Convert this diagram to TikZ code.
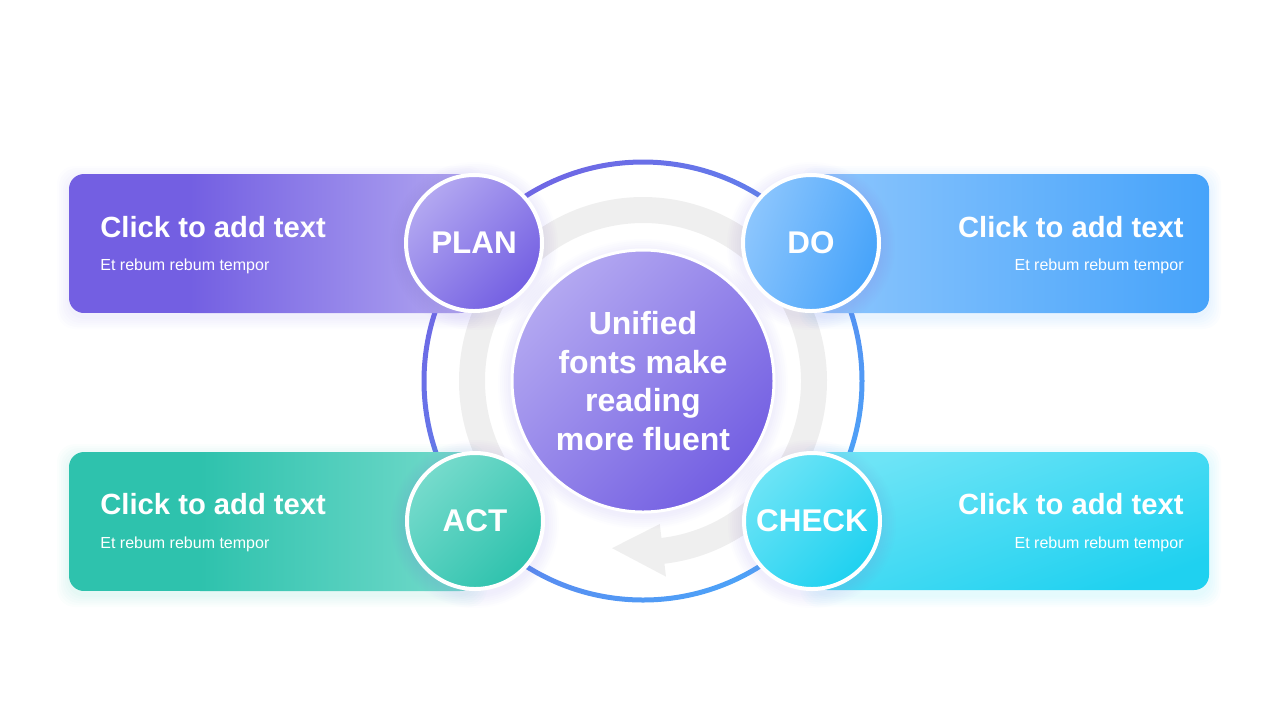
\documentclass[tikz,border=0pt]{standalone}
\usepackage{fontspec}
\setmainfont{Liberation Sans}
\usetikzlibrary{calc}
\definecolor{planA}{HTML}{735FE2}
\definecolor{planB}{HTML}{B3A8F1}
\definecolor{doA}{HTML}{46A3FA}
\definecolor{doB}{HTML}{8DC6FD}
\definecolor{actA}{HTML}{2EC2AD}
\definecolor{actB}{HTML}{76DBCC}
\definecolor{chkA}{HTML}{1FD1F0}
\definecolor{chkB}{HTML}{6DE4F6}
\definecolor{ringA}{HTML}{6F66E4}
\definecolor{ringB}{HTML}{4CA3F8}
\definecolor{ringgray}{HTML}{EFEFEF}
\definecolor{glowc}{HTML}{8C80E8}
\newcommand\Glow[3]{%
    \foreach \g in {2,4,...,14}
        \fill[glowc,opacity=0.018] (#1,#2+3) circle[radius=#3+\g];
}
\newcommand\BoxGlow[4]{%
    \foreach \g in {2,4,...,12}
        \fill[#4,opacity=0.02,rounded corners=9pt] (#1-\g,#2-\g+4) rectangle (#3+\g,\g+4+#2+139);
}
% box with a flat part and a fading part
\newcommand\FadeBox[6]{%
    \begin{scope}
        \clip[rounded corners=7.5pt] (#1,#2) rectangle (#3,#2+139);
        \fill[#5] (#1,#2) rectangle (#3,#2+139);
        \shade[left color=#5,right color=#6] (#4,#2-2) rectangle (#3+2,#2+141);
    \end{scope}
}
\tikzset{
    title/.style={font=\bfseries\fontsize{14.6}{17}\selectfont,text=white,inner sep=0pt},
    subtitle/.style={font=\fontsize{8}{10}\selectfont,text=white,inner sep=0pt},
    stage/.style 2 args={circle,minimum size=68pt,inner sep=0pt,draw=white,line width=2pt,
        font=\bfseries\fontsize{15.7}{18}\selectfont,text=white,
        top color=#1,bottom color=#2,shading angle=45},
}

\begin{document}
\begin{tikzpicture}[x=0.5pt,y=-0.5pt]
    \useasboundingbox (0,0) rectangle (1280,720);
    % gray cycle arrow
    \begin{scope}[shift={(643,381)}]
        \fill[ringgray] (140:184) arc[start angle=140,end angle=443.3,radius=184]
            -- (443.3:197) -- (100.5:170) -- (443.3:144) -- (443.3:158)
            arc[start angle=443.3,end angle=140,radius=158] -- cycle;
    \end{scope}
    \shade[even odd rule,top color=ringA,bottom color=ringB,shading angle=45]
        (643,381) circle[radius=221.5] (643,381) circle[radius=216.5];
    % boxes
    \BoxGlow{69}{174}{474}{glowc}
    \BoxGlow{811}{174}{1209}{doA}
    \BoxGlow{69}{452}{475}{actA}
    \BoxGlow{812}{452}{1209}{chkA}
    \FadeBox{69}{174}{474}{190}{planA}{planB}
    \shade[left color=doB,right color=doA,rounded corners=7.5pt] (811,174) rectangle (1209,313);
    \FadeBox{69}{452}{475}{200}{actA}{actB}
    \shade[top color=chkB,bottom color=chkA,shading angle=20,rounded corners=7.5pt] (812,452) rectangle (1209,590);
    \node[title,anchor=base west] (plantitle) at (100,237) {Click to add text};
    \node[subtitle,anchor=base west] (plantext) at (100,270) {Et rebum rebum tempor};
    \node[title,anchor=base east] (dotitle) at (1184,237) {Click to add text};
    \node[subtitle,anchor=base east] (dotext) at (1184,270) {Et rebum rebum tempor};
    \node[title,anchor=base west] (acttitle) at (100,514) {Click to add text};
    \node[subtitle,anchor=base west] (acttext) at (100,548) {Et rebum rebum tempor};
    \node[title,anchor=base east] (chktitle) at (1184,514) {Click to add text};
    \node[subtitle,anchor=base east] (chktext) at (1184,548) {Et rebum rebum tempor};
    % circles
    \Glow{643}{381}{131}
    \node[circle,minimum size=131pt,inner sep=0pt,draw=white,line width=1.5pt,
        top color=planB,bottom color=planA,shading angle=45,text=white,align=center,
        font=\bfseries\fontsize{16}{19.3}\selectfont] (core) at (643,381)
        {Unified\\fonts make\\reading\\more fluent};
    \Glow{474}{243}{70}
    \Glow{811}{243}{70}
    \Glow{475}{521}{70}
    \Glow{812}{521}{70}
    \node[stage={planB}{planA}] (plan) at (474,243) {PLAN};
    \node[stage={doB}{doA},shading angle=70] (do) at (811,243) {DO};
    \node[stage={actB}{actA}] (act) at (475,521) {ACT};
    \node[stage={chkB}{chkA}] (check) at (812,521) {CHECK};
\end{tikzpicture}
\end{document}
